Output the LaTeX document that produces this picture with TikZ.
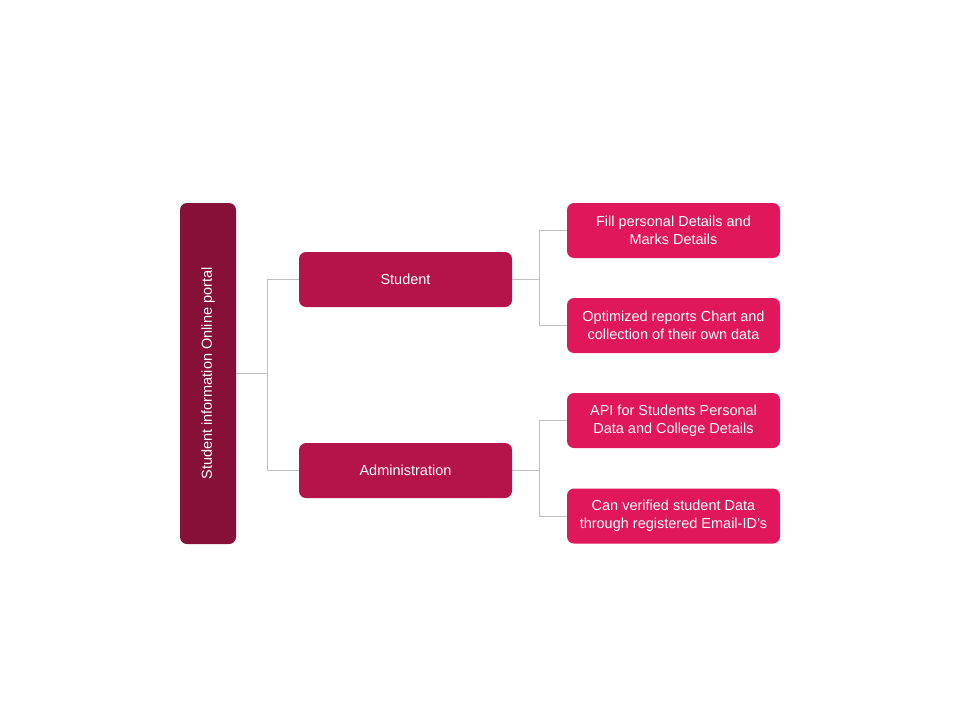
\documentclass[tikz,border=0pt]{standalone}
\usepackage{fontspec}
\setmainfont{Liberation Sans}
\definecolor{rootc}{HTML}{861038}
\definecolor{midc}{HTML}{B5144A}
\definecolor{leafc}{HTML}{E0175A}
\definecolor{linec}{HTML}{C0C0C0}
\tikzset{
  box/.style={rounded corners=7pt, text=white, align=center, inner sep=0pt, font=\fontsize{14.5}{18}\selectfont},
  rootbox/.style={box, fill=rootc, minimum width=56pt, minimum height=341pt},
  midbox/.style={box, fill=midc, minimum width=213pt, minimum height=55pt},
  leafbox/.style={box, fill=leafc, minimum width=213pt, minimum height=55pt},
  conn/.style={draw=linec, line width=1pt}
}
\begin{document}
\begin{tikzpicture}[x=1pt,y=-1pt]
\useasboundingbox (0,0) rectangle (960,720);
\node[rootbox] (root) at (208,373.5) {};
\node[rotate=90, text=white, font=\fontsize{14.5}{18}\selectfont] (roott) at (root.center) {Student information Online portal};
\node[midbox] (stu) at (405.5,279.5) {Student};
\node[midbox] (adm) at (405.5,470.5) {Administration};
\node[leafbox] (l1) at (673.5,230.5) {Fill personal Details and\\Marks Details};
\node[leafbox] (l2) at (673.5,325.5) {Optimized reports Chart and\\collection of their own data};
\node[leafbox] (l3) at (673.5,420.5) {API for Students Personal\\Data and College Details};
\node[leafbox] (l4) at (673.5,516) {Can verified student Data\\through registered Email-ID’s};
\coordinate (j1) at (267,373.5);
\coordinate (j2) at (539,279.5);
\coordinate (j3) at (539,470.5);
\draw[conn] (root.east) -- (j1) |- (stu.west);
\draw[conn] (j1) |- (adm.west);
\draw[conn] (stu.east) -- (j2) |- (l1.west);
\draw[conn] (j2) |- (l2.west);
\draw[conn] (adm.east) -- (j3) |- (l3.west);
\draw[conn] (j3) |- (l4.west);
\end{tikzpicture}
\end{document}
